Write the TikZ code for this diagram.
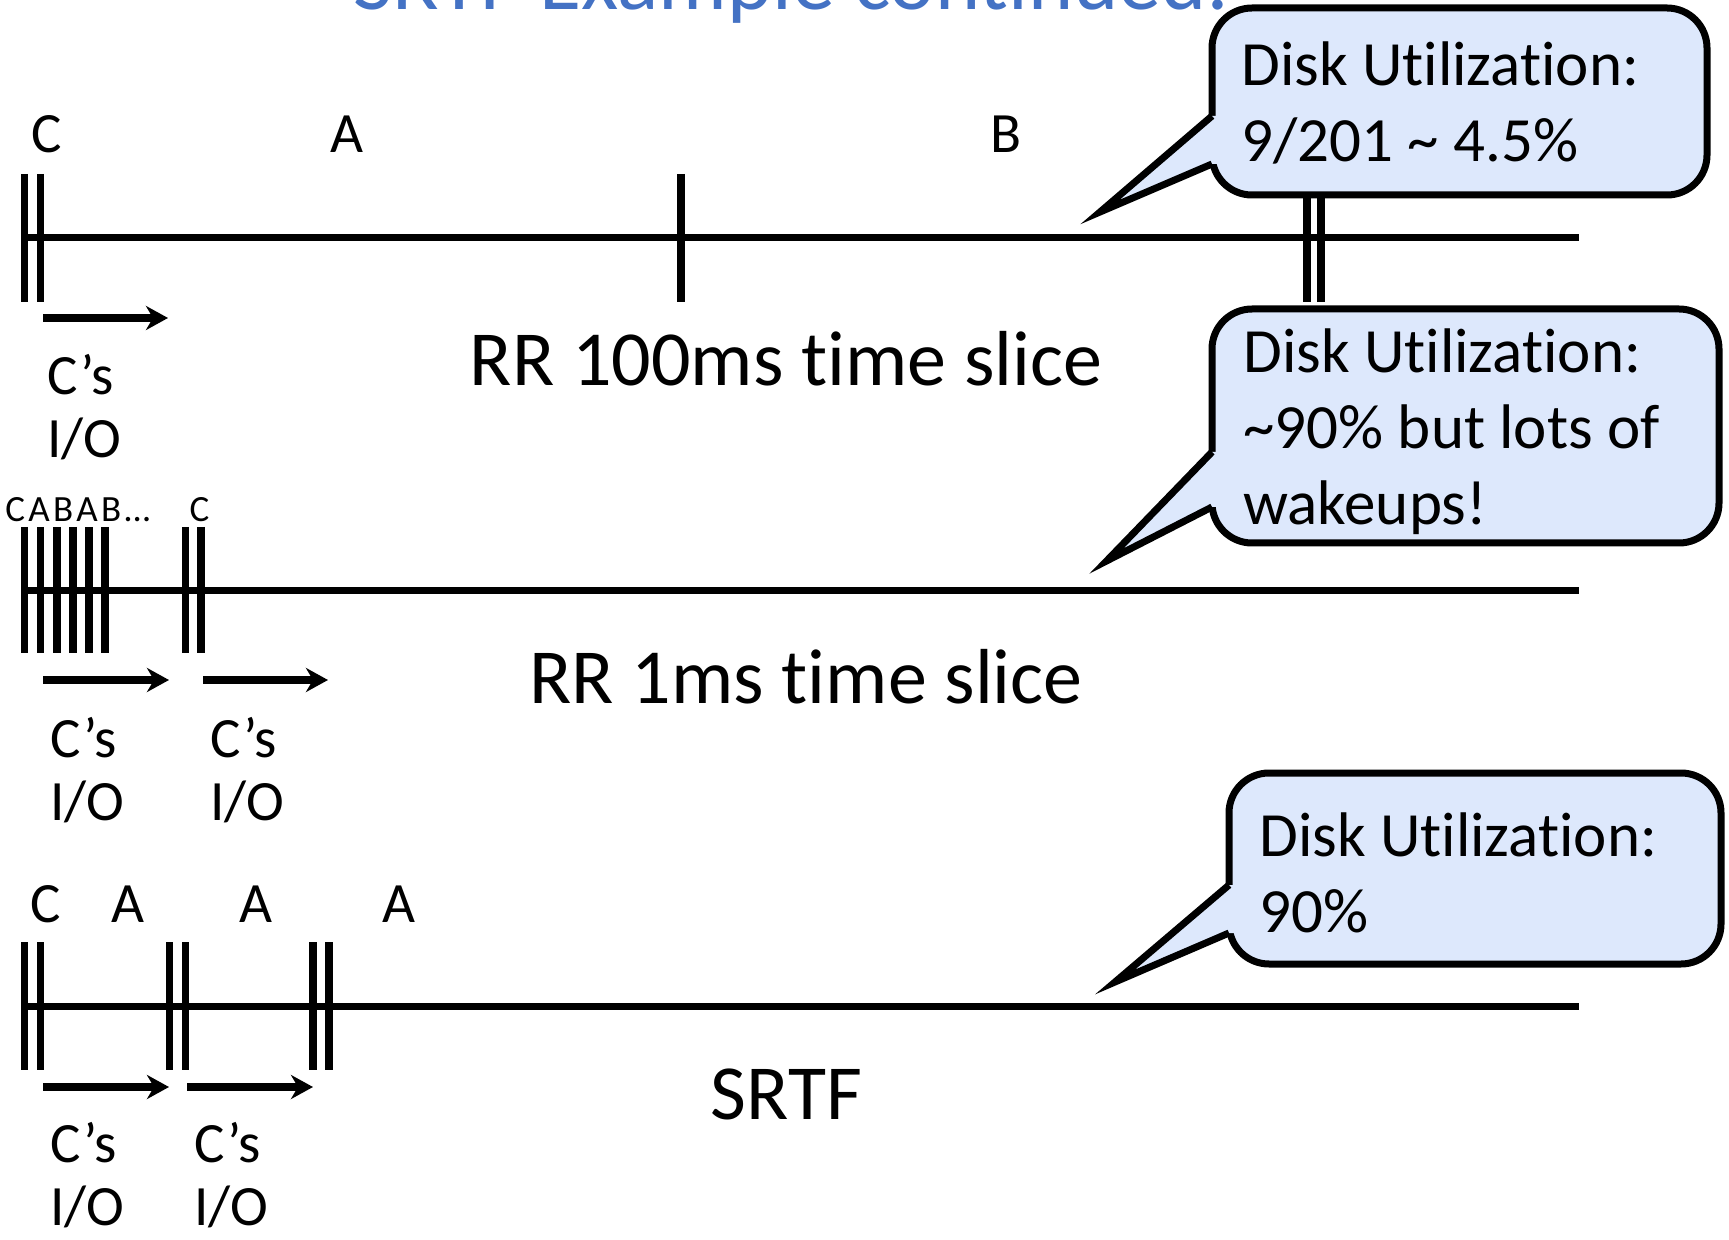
\documentclass[tikz,border=0pt]{standalone}
\usepackage{fontspec}
\setmainfont{Carlito}[Ligatures={NoCommon}]
\usepackage{xcolor}
\usetikzlibrary{arrows.meta,calc}
\definecolor{title}{HTML}{4472C4}
\definecolor{bubblefill}{HTML}{DDE8FC}
\tikzset{
  tline/.style={line width=3.3pt, draw=black},
  tick/.style={line width=3.8pt, draw=black},
  ioarrow/.style={-{Stealth[length=11pt, width=12pt, inset=3.5pt]}, line width=4pt},
  lab/.style={font=\fontsize{28.5}{30}\selectfont, inner sep=0pt, anchor=base},
  tinylab/.style={font=\fontsize{18.5}{20}\selectfont\addfontfeature{LetterSpace=9}, inner sep=0pt, anchor=base west},
  io/.style={font=\fontsize{28.5}{31.5}\selectfont, inner sep=0pt, anchor=base west, align=left},
  slice/.style={font=\fontsize{39}{42}\selectfont, inner sep=0pt, anchor=base},
  bubble/.style={draw=black, line width=3.5pt, fill=bubblefill, rounded corners=20pt,
    inner sep=0pt, outer sep=0pt, anchor=north west},
  ptr/.style={draw=black, line width=3.5pt, line join=miter},
  bubtext/.style={font=\fontsize{31.5}{38}\selectfont, inner sep=0pt, anchor=base west, align=left}
}

\begin{document}
\begin{tikzpicture}[x=0.5pt, y=-0.5pt]
  \useasboundingbox (0,0) rectangle (1729,1240);

  % title, cut off at the top edge
  \begin{scope}
    \clip (0,0) rectangle (1729,1240);
    \node[font=\fontsize{43}{45}\selectfont, text=title, inner sep=0pt, anchor=base west] (ttl) at (353,10) {SRTF Example continued:};
  \end{scope}

  % RR 100ms
  \coordinate (s1) at (21,237.5);
  \coordinate (e1) at (1579,237.5);
  \draw[tline] (s1) -- (e1);
  \draw[tick] (24.5,174) -- (24.5,302) (40.5,174) -- (40.5,302)
    (681,174) -- (681,302)
    (1307,174) -- (1307,302) (1321,174) -- (1321,302);
  \node[lab] (c1) at (47,153) {C};
  \node[lab] (a1) at (347,153) {A};
  \node[lab] (b1) at (1006,153) {B};
  \coordinate (io1s) at (43,318);
  \coordinate (io1e) at (168,318);
  \draw[ioarrow] (io1s) -- (io1e);
  % base anchor of a two-line node = last line
  \node[io] (io1) at (47,458) {C’s\\I/O};
  \node[slice] (rr100) at (786,386) {RR 100ms time slice};

  % RR 1ms
  \coordinate (s2) at (21,590.5);
  \coordinate (e2) at (1579,590.5);
  \draw[tline] (s2) -- (e2);
  \draw[tick] (24.5,527) -- (24.5,653) (40.5,527) -- (40.5,653)
    (57,527) -- (57,653) (73,527) -- (73,653)
    (89,527) -- (89,653) (105,527) -- (105,653)
    (185.5,527) -- (185.5,653) (201,527) -- (201,653);
  \node[tinylab] (cabab) at (5,522) {CABAB\ldots};
  \node[tinylab, anchor=base] (c2) at (199.5,522) {C};
  \coordinate (io2s) at (43,680);
  \coordinate (io2e) at (169,680);
  \coordinate (io3s) at (203,680);
  \coordinate (io3e) at (328,680);
  \draw[ioarrow] (io2s) -- (io2e);
  \draw[ioarrow] (io3s) -- (io3e);
  \node[io] (io2) at (50,820) {C’s\\I/O};
  \node[io] (io3) at (210,820) {C’s\\I/O};
  \node[slice] (rr1) at (806,703) {RR 1ms time slice};

  % SRTF
  \coordinate (s3) at (21,1006.5);
  \coordinate (e3) at (1579,1006.5);
  \draw[tline] (s3) -- (e3);
  \draw[tick] (24.5,942) -- (24.5,1070) (40.5,942) -- (40.5,1070)
    (169.5,942) -- (169.5,1070) (185.5,942) -- (185.5,1070)
    (313,942) -- (313,1070) (329,942) -- (329,1070);
  \node[lab] (c3) at (45.5,922) {C};
  \node[lab] (a3) at (127.5,922) {A};
  \node[lab] (a4) at (256,922) {A};
  \node[lab] (a5) at (399,922) {A};
  \coordinate (io4s) at (43,1087);
  \coordinate (io4e) at (169,1087);
  \coordinate (io5s) at (187,1087);
  \coordinate (io5e) at (313,1087);
  \draw[ioarrow] (io4s) -- (io4e);
  \draw[ioarrow] (io5s) -- (io5e);
  \node[io] (io4) at (50,1225) {C’s\\I/O};
  \node[io] (io5) at (194,1225) {C’s\\I/O};
  \node[slice] (srtf) at (786.5,1119) {SRTF};

  % callouts
  \node[bubble, minimum width=247.5pt, minimum height=93.5pt] (box1) at (1212,8) {};
  \coordinate (p1a) at ($(box1.north west)+(0,108)$);
  \coordinate (p1b) at ($(box1.north west)+(0,156)$);
  \coordinate (tip1) at (1100,212);
  \fill[bubblefill] ($(p1a)+(6,0)$) -- (p1a) -- (tip1) -- (p1b) -- ($(p1b)+(6,0)$) -- cycle;
  \draw[ptr] (p1a) -- (tip1) -- (p1b);
  \node[bubtext] (u1) at (1241,162) {Disk Utilization:\\9/201 \textasciitilde{} 4.5\%};

  \node[bubble, minimum width=253.5pt, minimum height=117pt] (box2) at (1212,309) {};
  \coordinate (p2a) at ($(box2.north west)+(0,143)$);
  \coordinate (p2b) at ($(box2.north west)+(0,198)$);
  \coordinate (tip2) at (1106.5,561);
  \fill[bubblefill] ($(p2a)+(6,0)$) -- (p2a) -- (tip2) -- (p2b) -- ($(p2b)+(6,0)$) -- cycle;
  \draw[ptr] (p2a) -- (tip2) -- (p2b);
  \node[bubtext] (u2) at (1243,525) {Disk Utilization:\\\textasciitilde 90\% but lots of\\wakeups!};

  \node[bubble, minimum width=246pt, minimum height=95.5pt] (box3) at (1229,773) {};
  \coordinate (p3a) at ($(box3.north west)+(0,112)$);
  \coordinate (p3b) at ($(box3.north west)+(0,160)$);
  \coordinate (tip3) at (1115,982);
  \fill[bubblefill] ($(p3a)+(6,0)$) -- (p3a) -- (tip3) -- (p3b) -- ($(p3b)+(6,0)$) -- cycle;
  \draw[ptr] (p3a) -- (tip3) -- (p3b);
  \node[bubtext] (u3) at (1259,932) {Disk Utilization:\\90\%};
\end{tikzpicture}
\end{document}
